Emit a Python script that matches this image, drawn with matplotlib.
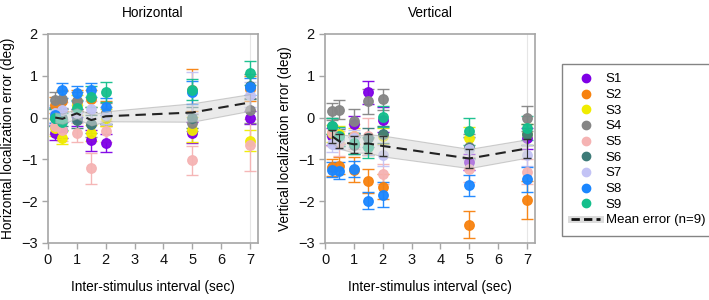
import matplotlib
matplotlib.use('Agg')
import matplotlib.pyplot as plt
from matplotlib.lines import Line2D

plt.rcParams['font.family'] = ['Liberation Sans', 'DejaVu Sans']
plt.rcParams['font.size'] = 10

isi = [0.25, 0.5, 1, 1.5, 2, 5, 7]
subjects = ['S1', 'S2', 'S3', 'S4', 'S5', 'S6', 'S7', 'S8', 'S9']
colors = ['#7f00e6', '#f7820f', '#f0ec00', '#858585', '#f5b3b3',
          '#3d7b78', '#c3c3f5', '#1a86ff', '#14bf8c']

# horizontal error per subject (deg)
h_vals = {
    'S1': [-0.36, -0.30, 0.00, -0.54, -0.61, -0.36, 0.00],
    'S2': [0.30, 0.40, 0.40, 0.45, 0.10, 0.65, 0.69],
    'S3': [-0.24, -0.48, 0.30, -0.37, 0.00, -0.29, -0.55],
    'S4': [0.42, 0.44, 0.40, -0.16, 0.10, -0.12, 0.17],
    'S5': [-0.20, -0.30, -0.36, -1.21, -0.33, -1.02, -0.65],
    'S6': [0.00, 0.00, -0.06, -0.16, 0.05, 0.00, 0.75],
    'S7': [0.10, 0.17, 0.10, 0.20, 0.05, 0.60, 0.55],
    'S8': [0.06, 0.65, 0.58, 0.66, 0.26, 0.60, 0.74],
    'S9': [0.00, -0.10, 0.22, 0.50, 0.61, 0.66, 1.07],
}
h_errs = {
    'S1': [0.18, 0.20, 0.20, 0.25, 0.22, 0.25, 0.15],
    'S2': [0.20, 0.25, 0.25, 0.20, 0.30, 0.50, 0.30],
    'S3': [0.20, 0.15, 0.25, 0.20, 0.20, 0.30, 0.25],
    'S4': [0.20, 0.20, 0.20, 0.30, 0.25, 0.20, 0.30],
    'S5': [0.20, 0.25, 0.22, 0.37, 0.25, 0.35, 0.62],
    'S6': [0.20, 0.20, 0.20, 0.22, 0.20, 0.25, 0.30],
    'S7': [0.20, 0.20, 0.20, 0.20, 0.20, 0.50, 0.30],
    'S8': [0.20, 0.18, 0.18, 0.17, 0.20, 0.27, 0.20],
    'S9': [0.20, 0.20, 0.20, 0.25, 0.24, 0.25, 0.28],
}
h_mean = [0.00, -0.03, 0.10, -0.06, 0.03, 0.12, 0.36]
h_sem = [0.12, 0.12, 0.12, 0.13, 0.12, 0.22, 0.20]

# vertical error per subject (deg)
v_vals = {
    'S1': [-0.45, -0.44, -0.16, 0.60, -0.05, -1.06, -0.50],
    'S2': [-1.19, -1.15, -1.25, -1.52, -1.65, -2.56, -1.97],
    'S3': [-0.38, -0.40, -0.44, -0.70, -0.44, -0.48, -0.40],
    'S4': [0.15, 0.19, -0.09, 0.39, 0.44, -0.70, -0.02],
    'S5': [-0.35, -0.62, -0.45, -0.45, -1.35, -1.24, -1.30],
    'S6': [-0.20, -0.48, -0.66, -0.48, -0.40, -0.72, -0.40],
    'S7': [-0.63, -0.50, -0.50, -0.70, -0.90, -0.75, -0.90],
    'S8': [-1.25, -1.27, -1.23, -1.99, -1.85, -1.62, -1.48],
    'S9': [-0.20, -0.45, -0.62, -0.71, 0.02, -0.33, -0.25],
}
v_errs = {
    'S1': [0.20, 0.20, 0.20, 0.27, 0.30, 0.20, 0.25],
    'S2': [0.20, 0.20, 0.30, 0.28, 0.30, 0.32, 0.45],
    'S3': [0.20, 0.20, 0.20, 0.20, 0.20, 0.25, 0.25],
    'S4': [0.20, 0.22, 0.30, 0.30, 0.25, 0.30, 0.30],
    'S5': [0.33, 0.30, 0.30, 0.45, 0.25, 0.30, 0.30],
    'S6': [0.20, 0.20, 0.20, 0.22, 0.20, 0.25, 0.25],
    'S7': [0.20, 0.25, 0.20, 0.20, 0.25, 0.25, 0.25],
    'S8': [0.18, 0.20, 0.20, 0.20, 0.30, 0.25, 0.30],
    'S9': [0.20, 0.22, 0.25, 0.25, 0.25, 0.33, 0.28],
}
v_mean = [-0.45, -0.57, -0.64, -0.62, -0.68, -0.98, -0.74]
v_sem = [0.15, 0.17, 0.20, 0.22, 0.25, 0.23, 0.22]


def draw_panel(ax, vals, errs, mean, sem, title, ylabel, mean_bars):
    for s, c in zip(subjects, colors):
        ax.errorbar(isi, vals[s], yerr=errs[s], fmt='o', color=c, ms=6.8,
                    ecolor=c, elinewidth=1, capsize=4, alpha=0.95, zorder=3)
    lo = [m - e for m, e in zip(mean, sem)]
    hi = [m + e for m, e in zip(mean, sem)]
    ax.fill_between(isi, lo, hi, color='#d9d9d9', alpha=0.55,
                    edgecolor='#a8a8a8', linewidth=0.8, zorder=4)
    if mean_bars:
        ax.errorbar(isi, mean, yerr=sem, fmt='none', ecolor='#333333',
                    elinewidth=0.8, capsize=3, zorder=5)
    ax.plot(isi, mean, color='#222222', ls=(0, (5, 3)), lw=1.5, zorder=6)
    ax.axvline(7, color='#e6e6e6', lw=0.8, zorder=0)
    ax.set_xlim(0, 7.28)
    ax.set_ylim(-3, 2)
    ax.set_xticks(range(0, 8))
    ax.set_yticks([-3, -2, -1, 0, 1, 2])
    ax.set_title(title, fontsize=9.8, pad=12)
    ax.set_xlabel('Inter-stimulus interval (sec)', fontsize=9.8, labelpad=9)
    ax.set_ylabel(ylabel, fontsize=9.8, labelpad=4)
    for sp in ax.spines.values():
        sp.set_color('#a6a6a6')
        sp.set_linewidth(1.2)
    ax.tick_params(colors='#a6a6a6', labelcolor='#111111', labelsize=10.5,
                   length=4, width=1)


fig = plt.figure(figsize=(7.09, 3.0), dpi=100)
ax1 = fig.add_axes([0.0677, 0.19, 0.2962, 0.697])
ax2 = fig.add_axes([0.4584, 0.19, 0.2962, 0.697])

draw_panel(ax1, h_vals, h_errs, h_mean, h_sem, 'Horizontal',
           'Horizontal localization error (deg)', False)
draw_panel(ax2, v_vals, v_errs, v_mean, v_sem, 'Vertical',
           'Vertical localization error (deg)', True)

handles = [Line2D([], [], marker='o', ls='none', color=c, ms=6) for c in colors]
band = Line2D([], [], color='#dcdcdc', lw=5)
dash = Line2D([], [], color='#111111', ls=(0, (3, 1.5)), lw=2)
handles.append((band, dash))
labels = subjects + ['Mean error (n=9)']
leg = fig.legend(handles, labels, loc='upper left',
                 bbox_to_anchor=(562 / 709, 1 - 64 / 300),
                 frameon=True, fancybox=False, fontsize=9.5,
                 handlelength=2.2, handletextpad=0.4, labelspacing=0.26,
                 borderpad=0.7, borderaxespad=0)
leg.get_frame().set_edgecolor('#666666')
leg.get_frame().set_linewidth(1)

fig.savefig('out.png', dpi=100)
